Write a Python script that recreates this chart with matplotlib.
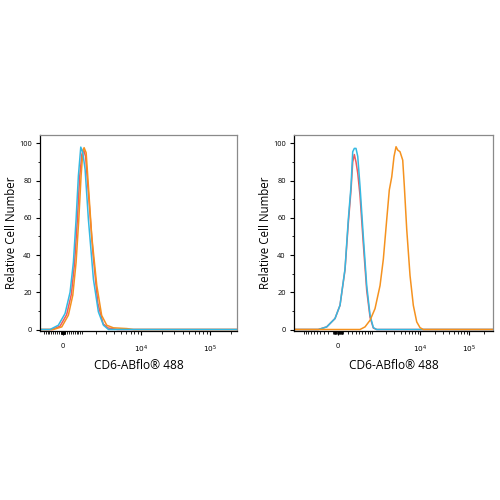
import numpy as np
import matplotlib
matplotlib.use("Agg")
import matplotlib.pyplot as plt
from matplotlib.ticker import FixedLocator, FixedFormatter

# --- data (fluorescence value, relative cell number) ---

# left panel (isotype / unstained)
left_cyan_x = [-670, -236, 100, 352, 524, 669, 797, 935, 1055, 1200, 1419, 1785, 2195, 2679, 3234]
left_cyan_y = [0, 2.3, 8.6, 20, 36, 59, 82.5, 98, 95, 86, 59, 27, 9.5, 2.3, 0]

left_red_x = [-560, -150, 180, 420, 590, 740, 870, 1000, 1094, 1230, 1450, 1760, 2150, 2650, 3200, 4500]
left_red_y = [0, 1.8, 8, 19, 36, 59, 82, 94, 97, 93, 70, 40, 14, 3, 0.8, 0]

left_orange_x = [-492, -65, 266, 493, 669, 819, 953, 1055, 1136, 1267, 1419, 1658, 2056, 2498, 3031, 3864, 6183, 7745]
left_orange_y = [0, 1.4, 7.7, 18.4, 36, 59, 82.5, 95, 97.7, 95, 77, 50, 23.7, 7.6, 2.3, 0.9, 0.5, 0]

# right panel (CD6 stained)
right_cyan_x = [-451, -236, -60, 40, 142, 213, 276, 317, 358, 403, 452, 521, 632, 762, 910, 1075, 1273]
right_cyan_y = [0, 1.4, 5.9, 13, 32.5, 59, 77, 95.5, 97.3, 97.3, 93, 77, 50, 23.6, 7.6, 1, 0]

right_red_x = right_cyan_x
right_red_y = [0, 1.4, 5.9, 13, 32, 57, 75, 90, 94, 90, 84, 72, 46, 21, 6.5, 0.8, 0]

right_orange_x = [521, 695, 910, 1170, 1499, 1760, 2070, 2345, 2633, 2935, 3230, 3500, 3897, 4428,
                  4779, 5350, 6250, 7297, 8565, 10000, 11670]
right_orange_y = [0, 1.4, 5, 11.2, 23.6, 37.8, 59, 75, 82, 93, 98.2, 96.4, 95.5, 91,
                  77, 53.8, 29, 13, 4.1, 1, 0]

x_major = [0, 1e4, 1e5]
x_major_labels = ["0", "$10^4$", "$10^5$"]
x_minor = (list(range(-1000, -99, 100)) + list(range(-90, 91, 10)) + list(range(100, 1000, 100))
           + list(range(1000, 10000, 1000)) + list(range(20000, 100000, 10000)) + [200000])
y_major = [0, 20, 40, 60, 80, 100]

cyan = "#35b9e2"
red = "#ee5a5e"
orange = "#f5921f"

plt.rcParams['font.family'] = ['Open Sans', 'DejaVu Sans']


def draw_panel(ax, c, xlim, curves):
    ax.set_xscale('function', functions=(lambda v: np.arcsinh(np.asarray(v) / c),
                                         lambda v: c * np.sinh(np.asarray(v))))
    for xs, ys, col in curves:
        # baseline runs along zero over the whole axis
        xx = [xlim[0]] + list(xs) + [xlim[1]]
        yy = [0] + list(ys) + [0]
        ax.plot(xx, yy, color=col, lw=1.1, solid_joinstyle='round')
    ax.set_xlim(*xlim)
    ax.set_ylim(-0.8, 104.5)

    ax.xaxis.set_major_locator(FixedLocator(x_major))
    ax.xaxis.set_major_formatter(FixedFormatter(x_major_labels))
    ax.xaxis.set_minor_locator(FixedLocator(x_minor))
    ax.set_yticks(y_major)
    ax.set_yticks(range(10, 101, 20), minor=True)
    ax.tick_params(axis='both', which='major', labelsize=5.3, length=3, width=0.8)
    ax.tick_params(axis='x', which='major', pad=6)
    ax.tick_params(axis='y', which='major', pad=3)
    ax.tick_params(axis='both', which='minor', length=1.8, width=0.6)

    ax.spines['left'].set_color('black')
    ax.spines['bottom'].set_color('black')
    ax.spines['top'].set_color('#8a8a8a')
    ax.spines['right'].set_color('#8a8a8a')
    for s in ax.spines.values():
        s.set_linewidth(0.9)

    ax.set_ylabel("Relative Cell Number", fontsize=8.3, labelpad=1)
    ax.set_xlabel("CD6-ABflo® 488", fontsize=8.6, labelpad=3)


fig = plt.figure(figsize=(5, 5), dpi=100)
ax1 = fig.add_axes([0.08, 0.338, 0.394, 0.392])
ax2 = fig.add_axes([0.588, 0.338, 0.398, 0.392])

draw_panel(ax1, 1495, (-1265, 2.46e5),
           [(left_red_x, left_red_y, red),
            (left_orange_x, left_orange_y, orange),
            (left_cyan_x, left_cyan_y, cyan)])
draw_panel(ax2, 424, (-1650, 3.09e5),
           [(right_red_x, right_red_y, red),
            (right_cyan_x, right_cyan_y, cyan),
            (right_orange_x, right_orange_y, orange)])

fig.savefig("out.png", dpi=100)
